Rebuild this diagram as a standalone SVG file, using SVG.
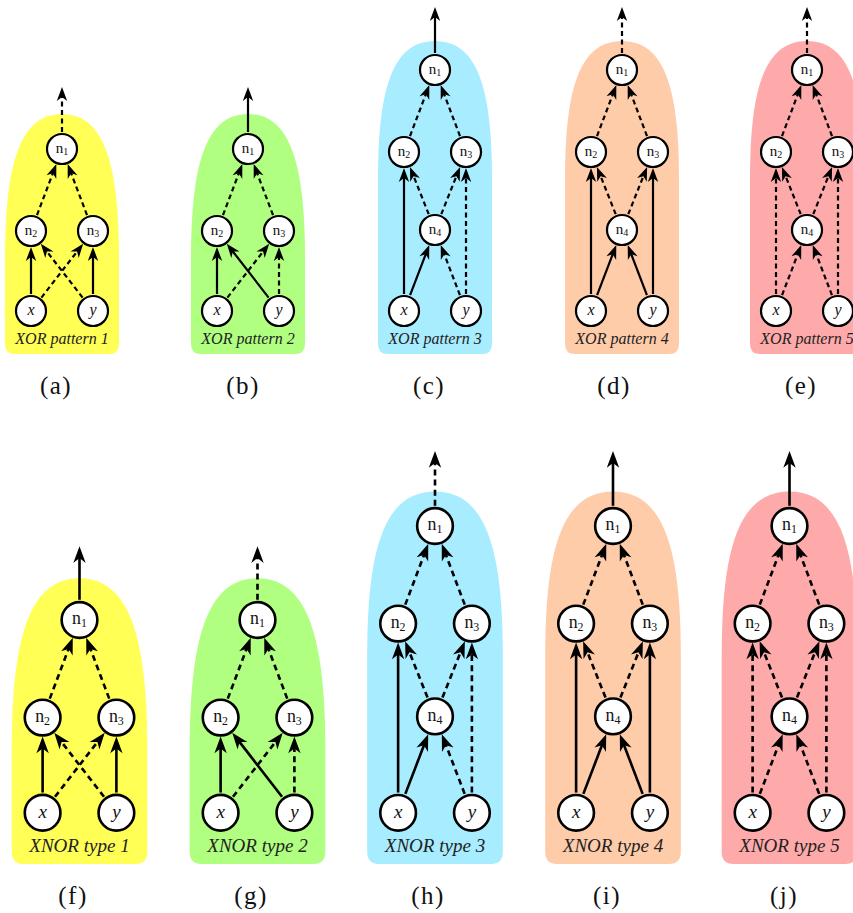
<svg xmlns="http://www.w3.org/2000/svg" width="853" height="913" viewBox="0 0 853 913">
<defs>
<marker id="ah" markerUnits="userSpaceOnUse" orient="auto" refX="0" refY="0" markerWidth="20" markerHeight="20" overflow="visible">
<path d="M8,0 L-6,-5.2 L-2,0 L-6,5.2 Z" fill="#000"/>
</marker>
<path id="bgS" d="M-57,110 C-57,20 -44,-35 0,-35 C44,-35 57,20 57,110 L57,195 Q57,205 47,205 L-47,205 Q-57,205 -57,195 Z"/>
<path id="bgT" d="M-57,110 C-57,25 -45,-29 0,-29 C45,-29 57,25 57,110 L57,274 Q57,284 47,284 L-47,284 Q-57,284 -57,274 Z"/>
</defs>
<style>
.bgY{fill:#FFFF55}.bgG{fill:#B0FF80}.bgB{fill:#A8ECFF}.bgO{fill:#FFCCAA}.bgR{fill:#FFAAAA}
.e{fill:none;stroke:#000;stroke-width:2.2;marker-end:url(#ah)}
.d{stroke-dasharray:5 3.5}
.nd circle{fill:#fff;stroke:#000;stroke-width:2.2}
.nd text{font-family:"Liberation Serif",serif;font-size:15px;text-anchor:middle;fill:#111}
.nd text.v{font-style:italic;font-size:16px}
.sub{font-size:10px}
.pl{font-family:"Liberation Serif",serif;font-style:italic;font-size:16px;text-anchor:middle;fill:#222}
.cap{font-family:"Liberation Serif",serif;font-size:25px;text-anchor:middle;letter-spacing:1.5px;fill:#111}
</style>

<!-- (a) -->
<g id="panel-a" transform="translate(62,149)">
<use href="#bgS" class="bgY"/>
<g id="a-edges">
<line class="e d" x1="0" y1="-17" x2="0" y2="-54"/>
<line class="e d" x1="-24.99" y1="66.1" x2="-8.49" y2="22.45"/>
<line class="e d" x1="24.99" y1="66.1" x2="8.49" y2="22.45"/>
<line class="e" x1="-31" y1="145" x2="-31" y2="106"/>
<line class="e" x1="31" y1="145" x2="31" y2="106"/>
<line class="e d" x1="-20.59" y1="148.56" x2="16.3" y2="100.97"/>
<line class="e d" x1="20.59" y1="148.56" x2="-16.3" y2="100.97"/>
</g>
<g id="a-n1" class="nd"><circle cx="0" cy="0" r="15"/><text x="0" y="3.5">n<tspan class="sub" dy="2.5">1</tspan></text></g>
<g id="a-n2" class="nd"><circle cx="-31" cy="82" r="15"/><text x="-31" y="85.5">n<tspan class="sub" dy="2.5">2</tspan></text></g>
<g id="a-n3" class="nd"><circle cx="31" cy="82" r="15"/><text x="31" y="85.5">n<tspan class="sub" dy="2.5">3</tspan></text></g>
<g id="a-x" class="nd"><circle cx="-31" cy="162" r="15"/><text class="v" x="-31" y="166">x</text></g>
<g id="a-y" class="nd"><circle cx="31" cy="162" r="15"/><text class="v" x="31" y="166">y</text></g>
<text class="pl" x="0" y="195">XOR pattern 1</text>
</g>

<!-- (b) -->
<g id="panel-b" transform="translate(248,149)">
<use href="#bgS" class="bgG"/>
<g id="b-edges">
<line class="e" x1="0" y1="-17" x2="0" y2="-54"/>
<line class="e d" x1="-24.99" y1="66.1" x2="-8.49" y2="22.45"/>
<line class="e d" x1="24.99" y1="66.1" x2="8.49" y2="22.45"/>
<line class="e" x1="-31" y1="145" x2="-31" y2="106"/>
<line class="e d" x1="31" y1="145" x2="31" y2="106"/>
<line class="e d" x1="-20.59" y1="148.56" x2="16.3" y2="100.97"/>
<line class="e" x1="20.59" y1="148.56" x2="-16.3" y2="100.97"/>
</g>
<g id="b-n1" class="nd"><circle cx="0" cy="0" r="15"/><text x="0" y="3.5">n<tspan class="sub" dy="2.5">1</tspan></text></g>
<g id="b-n2" class="nd"><circle cx="-31" cy="82" r="15"/><text x="-31" y="85.5">n<tspan class="sub" dy="2.5">2</tspan></text></g>
<g id="b-n3" class="nd"><circle cx="31" cy="82" r="15"/><text x="31" y="85.5">n<tspan class="sub" dy="2.5">3</tspan></text></g>
<g id="b-x" class="nd"><circle cx="-31" cy="162" r="15"/><text class="v" x="-31" y="166">x</text></g>
<g id="b-y" class="nd"><circle cx="31" cy="162" r="15"/><text class="v" x="31" y="166">y</text></g>
<text class="pl" x="0" y="195">XOR pattern 2</text>
</g>

<!-- (c) -->
<g id="panel-c" transform="translate(435,70)">
<use href="#bgT" class="bgB"/>
<g id="c-edges">
<line class="e" x1="0" y1="-17" x2="0" y2="-55"/>
<line class="e d" x1="-24.99" y1="66.1" x2="-8.49" y2="22.45"/>
<line class="e d" x1="24.99" y1="66.1" x2="8.49" y2="22.45"/>
<line class="e" x1="-31" y1="224" x2="-31" y2="106"/>
<line class="e d" x1="31" y1="224" x2="31" y2="106"/>
<line class="e d" x1="-6.28" y1="144.2" x2="-22.14" y2="104.31"/>
<line class="e d" x1="6.28" y1="144.2" x2="22.14" y2="104.31"/>
<line class="e" x1="-24.92" y1="225.12" x2="-8.58" y2="182.42"/>
<line class="e d" x1="24.92" y1="225.12" x2="8.58" y2="182.42"/>
</g>
<g id="c-n1" class="nd"><circle cx="0" cy="0" r="15"/><text x="0" y="3.5">n<tspan class="sub" dy="2.5">1</tspan></text></g>
<g id="c-n2" class="nd"><circle cx="-31" cy="82" r="15"/><text x="-31" y="85.5">n<tspan class="sub" dy="2.5">2</tspan></text></g>
<g id="c-n3" class="nd"><circle cx="31" cy="82" r="15"/><text x="31" y="85.5">n<tspan class="sub" dy="2.5">3</tspan></text></g>
<g id="c-n4" class="nd"><circle cx="0" cy="160" r="15"/><text x="0" y="163.5">n<tspan class="sub" dy="2.5">4</tspan></text></g>
<g id="c-x" class="nd"><circle cx="-31" cy="241" r="15"/><text class="v" x="-31" y="245">x</text></g>
<g id="c-y" class="nd"><circle cx="31" cy="241" r="15"/><text class="v" x="31" y="245">y</text></g>
<text class="pl" x="0" y="274">XOR pattern 3</text>
</g>

<!-- (d) -->
<g id="panel-d" transform="translate(622,70)">
<use href="#bgT" class="bgO"/>
<g id="d-edges">
<line class="e d" x1="0" y1="-17" x2="0" y2="-55"/>
<line class="e d" x1="-24.99" y1="66.1" x2="-8.49" y2="22.45"/>
<line class="e d" x1="24.99" y1="66.1" x2="8.49" y2="22.45"/>
<line class="e" x1="-31" y1="224" x2="-31" y2="106"/>
<line class="e" x1="31" y1="224" x2="31" y2="106"/>
<line class="e d" x1="-6.28" y1="144.2" x2="-22.14" y2="104.31"/>
<line class="e d" x1="6.28" y1="144.2" x2="22.14" y2="104.31"/>
<line class="e" x1="-24.92" y1="225.12" x2="-8.58" y2="182.42"/>
<line class="e" x1="24.92" y1="225.12" x2="8.58" y2="182.42"/>
</g>
<g id="d-n1" class="nd"><circle cx="0" cy="0" r="15"/><text x="0" y="3.5">n<tspan class="sub" dy="2.5">1</tspan></text></g>
<g id="d-n2" class="nd"><circle cx="-31" cy="82" r="15"/><text x="-31" y="85.5">n<tspan class="sub" dy="2.5">2</tspan></text></g>
<g id="d-n3" class="nd"><circle cx="31" cy="82" r="15"/><text x="31" y="85.5">n<tspan class="sub" dy="2.5">3</tspan></text></g>
<g id="d-n4" class="nd"><circle cx="0" cy="160" r="15"/><text x="0" y="163.5">n<tspan class="sub" dy="2.5">4</tspan></text></g>
<g id="d-x" class="nd"><circle cx="-31" cy="241" r="15"/><text class="v" x="-31" y="245">x</text></g>
<g id="d-y" class="nd"><circle cx="31" cy="241" r="15"/><text class="v" x="31" y="245">y</text></g>
<text class="pl" x="0" y="274">XOR pattern 4</text>
</g>

<!-- (e) -->
<g id="panel-e" transform="translate(807,70)">
<use href="#bgT" class="bgR"/>
<g id="e-edges">
<line class="e d" x1="0" y1="-17" x2="0" y2="-55"/>
<line class="e d" x1="-24.99" y1="66.1" x2="-8.49" y2="22.45"/>
<line class="e d" x1="24.99" y1="66.1" x2="8.49" y2="22.45"/>
<line class="e d" x1="-31" y1="224" x2="-31" y2="106"/>
<line class="e d" x1="31" y1="224" x2="31" y2="106"/>
<line class="e d" x1="-6.28" y1="144.2" x2="-22.14" y2="104.31"/>
<line class="e d" x1="6.28" y1="144.2" x2="22.14" y2="104.31"/>
<line class="e d" x1="-24.92" y1="225.12" x2="-8.58" y2="182.42"/>
<line class="e d" x1="24.92" y1="225.12" x2="8.58" y2="182.42"/>
</g>
<g id="e-n1" class="nd"><circle cx="0" cy="0" r="15"/><text x="0" y="3.5">n<tspan class="sub" dy="2.5">1</tspan></text></g>
<g id="e-n2" class="nd"><circle cx="-31" cy="82" r="15"/><text x="-31" y="85.5">n<tspan class="sub" dy="2.5">2</tspan></text></g>
<g id="e-n3" class="nd"><circle cx="31" cy="82" r="15"/><text x="31" y="85.5">n<tspan class="sub" dy="2.5">3</tspan></text></g>
<g id="e-n4" class="nd"><circle cx="0" cy="160" r="15"/><text x="0" y="163.5">n<tspan class="sub" dy="2.5">4</tspan></text></g>
<g id="e-x" class="nd"><circle cx="-31" cy="241" r="15"/><text class="v" x="-31" y="245">x</text></g>
<g id="e-y" class="nd"><circle cx="31" cy="241" r="15"/><text class="v" x="31" y="245">y</text></g>
<text class="pl" x="0" y="274">XOR pattern 5</text>
</g>

<!-- (f) -->
<g id="panel-f" transform="translate(79.5,620) scale(1.19)">
<use href="#bgS" class="bgY"/>
<g id="f-edges">
<line class="e" x1="0" y1="-17" x2="0" y2="-54"/>
<line class="e d" x1="-24.99" y1="66.1" x2="-8.49" y2="22.45"/>
<line class="e d" x1="24.99" y1="66.1" x2="8.49" y2="22.45"/>
<line class="e" x1="-31" y1="145" x2="-31" y2="106"/>
<line class="e" x1="31" y1="145" x2="31" y2="106"/>
<line class="e d" x1="-20.59" y1="148.56" x2="16.3" y2="100.97"/>
<line class="e d" x1="20.59" y1="148.56" x2="-16.3" y2="100.97"/>
</g>
<g id="f-n1" class="nd"><circle cx="0" cy="0" r="15"/><text x="0" y="3.5">n<tspan class="sub" dy="2.5">1</tspan></text></g>
<g id="f-n2" class="nd"><circle cx="-31" cy="82" r="15"/><text x="-31" y="85.5">n<tspan class="sub" dy="2.5">2</tspan></text></g>
<g id="f-n3" class="nd"><circle cx="31" cy="82" r="15"/><text x="31" y="85.5">n<tspan class="sub" dy="2.5">3</tspan></text></g>
<g id="f-x" class="nd"><circle cx="-31" cy="162" r="15"/><text class="v" x="-31" y="166">x</text></g>
<g id="f-y" class="nd"><circle cx="31" cy="162" r="15"/><text class="v" x="31" y="166">y</text></g>
<text class="pl" x="0" y="195">XNOR type 1</text>
</g>

<!-- (g) -->
<g id="panel-g" transform="translate(257.5,620) scale(1.19)">
<use href="#bgS" class="bgG"/>
<g id="g-edges">
<line class="e d" x1="0" y1="-17" x2="0" y2="-54"/>
<line class="e d" x1="-24.99" y1="66.1" x2="-8.49" y2="22.45"/>
<line class="e d" x1="24.99" y1="66.1" x2="8.49" y2="22.45"/>
<line class="e" x1="-31" y1="145" x2="-31" y2="106"/>
<line class="e d" x1="31" y1="145" x2="31" y2="106"/>
<line class="e d" x1="-20.59" y1="148.56" x2="16.3" y2="100.97"/>
<line class="e" x1="20.59" y1="148.56" x2="-16.3" y2="100.97"/>
</g>
<g id="g-n1" class="nd"><circle cx="0" cy="0" r="15"/><text x="0" y="3.5">n<tspan class="sub" dy="2.5">1</tspan></text></g>
<g id="g-n2" class="nd"><circle cx="-31" cy="82" r="15"/><text x="-31" y="85.5">n<tspan class="sub" dy="2.5">2</tspan></text></g>
<g id="g-n3" class="nd"><circle cx="31" cy="82" r="15"/><text x="31" y="85.5">n<tspan class="sub" dy="2.5">3</tspan></text></g>
<g id="g-x" class="nd"><circle cx="-31" cy="162" r="15"/><text class="v" x="-31" y="166">x</text></g>
<g id="g-y" class="nd"><circle cx="31" cy="162" r="15"/><text class="v" x="31" y="166">y</text></g>
<text class="pl" x="0" y="195">XNOR type 2</text>
</g>

<!-- (h) -->
<g id="panel-h" transform="translate(435,526) scale(1.19)">
<use href="#bgT" class="bgB"/>
<g id="h-edges">
<line class="e d" x1="0" y1="-17" x2="0" y2="-55"/>
<line class="e d" x1="-24.99" y1="66.1" x2="-8.49" y2="22.45"/>
<line class="e d" x1="24.99" y1="66.1" x2="8.49" y2="22.45"/>
<line class="e" x1="-31" y1="224" x2="-31" y2="106"/>
<line class="e d" x1="31" y1="224" x2="31" y2="106"/>
<line class="e d" x1="-6.28" y1="144.2" x2="-22.14" y2="104.31"/>
<line class="e d" x1="6.28" y1="144.2" x2="22.14" y2="104.31"/>
<line class="e" x1="-24.92" y1="225.12" x2="-8.58" y2="182.42"/>
<line class="e d" x1="24.92" y1="225.12" x2="8.58" y2="182.42"/>
</g>
<g id="h-n1" class="nd"><circle cx="0" cy="0" r="15"/><text x="0" y="3.5">n<tspan class="sub" dy="2.5">1</tspan></text></g>
<g id="h-n2" class="nd"><circle cx="-31" cy="82" r="15"/><text x="-31" y="85.5">n<tspan class="sub" dy="2.5">2</tspan></text></g>
<g id="h-n3" class="nd"><circle cx="31" cy="82" r="15"/><text x="31" y="85.5">n<tspan class="sub" dy="2.5">3</tspan></text></g>
<g id="h-n4" class="nd"><circle cx="0" cy="160" r="15"/><text x="0" y="163.5">n<tspan class="sub" dy="2.5">4</tspan></text></g>
<g id="h-x" class="nd"><circle cx="-31" cy="241" r="15"/><text class="v" x="-31" y="245">x</text></g>
<g id="h-y" class="nd"><circle cx="31" cy="241" r="15"/><text class="v" x="31" y="245">y</text></g>
<text class="pl" x="0" y="274">XNOR type 3</text>
</g>

<!-- (i) -->
<g id="panel-i" transform="translate(613,526) scale(1.19)">
<use href="#bgT" class="bgO"/>
<g id="i-edges">
<line class="e" x1="0" y1="-17" x2="0" y2="-55"/>
<line class="e d" x1="-24.99" y1="66.1" x2="-8.49" y2="22.45"/>
<line class="e d" x1="24.99" y1="66.1" x2="8.49" y2="22.45"/>
<line class="e" x1="-31" y1="224" x2="-31" y2="106"/>
<line class="e" x1="31" y1="224" x2="31" y2="106"/>
<line class="e d" x1="-6.28" y1="144.2" x2="-22.14" y2="104.31"/>
<line class="e d" x1="6.28" y1="144.2" x2="22.14" y2="104.31"/>
<line class="e" x1="-24.92" y1="225.12" x2="-8.58" y2="182.42"/>
<line class="e" x1="24.92" y1="225.12" x2="8.58" y2="182.42"/>
</g>
<g id="i-n1" class="nd"><circle cx="0" cy="0" r="15"/><text x="0" y="3.5">n<tspan class="sub" dy="2.5">1</tspan></text></g>
<g id="i-n2" class="nd"><circle cx="-31" cy="82" r="15"/><text x="-31" y="85.5">n<tspan class="sub" dy="2.5">2</tspan></text></g>
<g id="i-n3" class="nd"><circle cx="31" cy="82" r="15"/><text x="31" y="85.5">n<tspan class="sub" dy="2.5">3</tspan></text></g>
<g id="i-n4" class="nd"><circle cx="0" cy="160" r="15"/><text x="0" y="163.5">n<tspan class="sub" dy="2.5">4</tspan></text></g>
<g id="i-x" class="nd"><circle cx="-31" cy="241" r="15"/><text class="v" x="-31" y="245">x</text></g>
<g id="i-y" class="nd"><circle cx="31" cy="241" r="15"/><text class="v" x="31" y="245">y</text></g>
<text class="pl" x="0" y="274">XNOR type 4</text>
</g>

<!-- (j) -->
<g id="panel-j" transform="translate(789.5,526) scale(1.19)">
<use href="#bgT" class="bgR"/>
<g id="j-edges">
<line class="e" x1="0" y1="-17" x2="0" y2="-55"/>
<line class="e d" x1="-24.99" y1="66.1" x2="-8.49" y2="22.45"/>
<line class="e d" x1="24.99" y1="66.1" x2="8.49" y2="22.45"/>
<line class="e d" x1="-31" y1="224" x2="-31" y2="106"/>
<line class="e d" x1="31" y1="224" x2="31" y2="106"/>
<line class="e d" x1="-6.28" y1="144.2" x2="-22.14" y2="104.31"/>
<line class="e d" x1="6.28" y1="144.2" x2="22.14" y2="104.31"/>
<line class="e d" x1="-24.92" y1="225.12" x2="-8.58" y2="182.42"/>
<line class="e d" x1="24.92" y1="225.12" x2="8.58" y2="182.42"/>
</g>
<g id="j-n1" class="nd"><circle cx="0" cy="0" r="15"/><text x="0" y="3.5">n<tspan class="sub" dy="2.5">1</tspan></text></g>
<g id="j-n2" class="nd"><circle cx="-31" cy="82" r="15"/><text x="-31" y="85.5">n<tspan class="sub" dy="2.5">2</tspan></text></g>
<g id="j-n3" class="nd"><circle cx="31" cy="82" r="15"/><text x="31" y="85.5">n<tspan class="sub" dy="2.5">3</tspan></text></g>
<g id="j-n4" class="nd"><circle cx="0" cy="160" r="15"/><text x="0" y="163.5">n<tspan class="sub" dy="2.5">4</tspan></text></g>
<g id="j-x" class="nd"><circle cx="-31" cy="241" r="15"/><text class="v" x="-31" y="245">x</text></g>
<g id="j-y" class="nd"><circle cx="31" cy="241" r="15"/><text class="v" x="31" y="245">y</text></g>
<text class="pl" x="0" y="274">XNOR type 5</text>
</g>

<g id="captions">
<text class="cap" x="56" y="394">(a)</text>
<text class="cap" x="243" y="394">(b)</text>
<text class="cap" x="429" y="394">(c)</text>
<text class="cap" x="614" y="394">(d)</text>
<text class="cap" x="801" y="394">(e)</text>
<text class="cap" x="73" y="904">(f)</text>
<text class="cap" x="251" y="904">(g)</text>
<text class="cap" x="428" y="904">(h)</text>
<text class="cap" x="607" y="904">(i)</text>
<text class="cap" x="784" y="904">(j)</text>
</g>
</svg>
